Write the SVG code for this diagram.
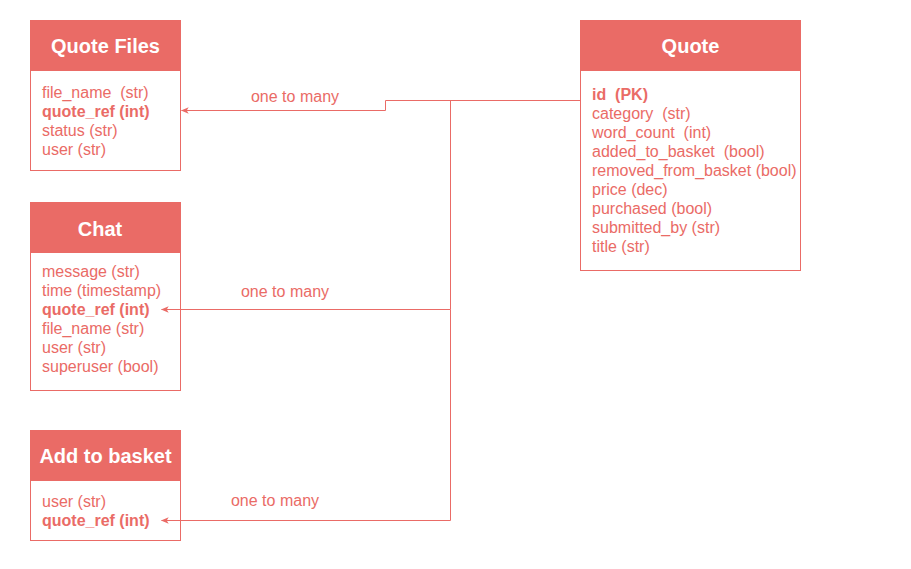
<svg xmlns="http://www.w3.org/2000/svg" width="911" height="569" viewBox="0 0 911 569">
<style>
.box{fill:#fff;stroke:#EA6B66;stroke-width:1}
.hdr{fill:#EA6B66;stroke:#EA6B66;stroke-width:1}
.title{font-family:"Liberation Sans",Arial,sans-serif;font-size:20px;font-weight:bold;fill:#fff;text-anchor:middle}
.f{font-family:"Liberation Sans",Arial,sans-serif;font-size:16px;fill:#EA6B66;white-space:pre}
.b{font-weight:bold}
.lbl{font-family:"Liberation Sans",Arial,sans-serif;font-size:16px;fill:#EA6B66;text-anchor:middle}
.edge{fill:none;stroke:#EA6B66;stroke-width:1}
</style>
<defs>
<marker id="arr" viewBox="0 0 10 10" refX="9" refY="5" markerWidth="8" markerHeight="8" markerUnits="userSpaceOnUse" orient="auto">
<path d="M0,1 L10,5 L0,9 L2.5,5 Z" fill="#EA6B66"/>
</marker>
</defs>
<rect width="911" height="569" fill="#fff"/>
<g id="quote-files">
<rect class="box" x="30.5" y="20.5" width="150" height="150"/>
<rect class="hdr" x="30.5" y="20.5" width="150" height="50"/>
<text class="title" x="105.5" y="53">Quote Files</text>
<text class="f" x="42" y="98" xml:space="preserve">file_name  (str)</text>
<text class="f b" x="42" y="117">quote_ref (int)</text>
<text class="f" x="42" y="136">status (str)</text>
<text class="f" x="42" y="155">user (str)</text>
</g>
<g id="quote">
<rect class="box" x="580.5" y="20.5" width="220" height="250"/>
<rect class="hdr" x="580.5" y="20.5" width="220" height="50"/>
<text class="title" x="690.5" y="53">Quote</text>
<text class="f b" x="592" y="100" xml:space="preserve">id  (PK)</text>
<text class="f" x="592" y="119" xml:space="preserve">category  (str)</text>
<text class="f" x="592" y="138" xml:space="preserve">word_count  (int)</text>
<text class="f" x="592" y="157" xml:space="preserve">added_to_basket  (bool)</text>
<text class="f" x="592" y="176">removed_from_basket (bool)</text>
<text class="f" x="592" y="195">price (dec)</text>
<text class="f" x="592" y="214">purchased (bool)</text>
<text class="f" x="592" y="233">submitted_by (str)</text>
<text class="f" x="592" y="252">title (str)</text>
</g>
<g id="chat">
<rect class="box" x="30.5" y="202.5" width="150" height="188"/>
<rect class="hdr" x="30.5" y="202.5" width="150" height="50"/>
<text class="title" x="100" y="236">Chat</text>
<text class="f" x="42" y="277">message (str)</text>
<text class="f" x="42" y="296">time (timestamp)</text>
<text class="f b" x="42" y="315">quote_ref (int)</text>
<text class="f" x="42" y="334">file_name (str)</text>
<text class="f" x="42" y="353">user (str)</text>
<text class="f" x="42" y="372">superuser (bool)</text>
</g>
<g id="add-to-basket">
<rect class="box" x="30.5" y="430.5" width="150" height="110"/>
<rect class="hdr" x="30.5" y="430.5" width="150" height="50"/>
<text class="title" x="105.5" y="463">Add to basket</text>
<text class="f" x="42" y="507">user (str)</text>
<text class="f b" x="42" y="526">quote_ref (int)</text>
</g>
<g id="connectors">
<path class="edge" d="M580.5,100.5 H385.5 V110.5 H181.5" marker-end="url(#arr)"/>
<path class="edge" d="M450.5,100.5 V309.5 H161.5" marker-end="url(#arr)"/>
<path class="edge" d="M450.5,309.5 V520.5 H161.5" marker-end="url(#arr)"/>
<text class="lbl" x="295" y="102">one to many</text>
<text class="lbl" x="285" y="297">one to many</text>
<text class="lbl" x="275" y="506">one to many</text>
</g>
</svg>
